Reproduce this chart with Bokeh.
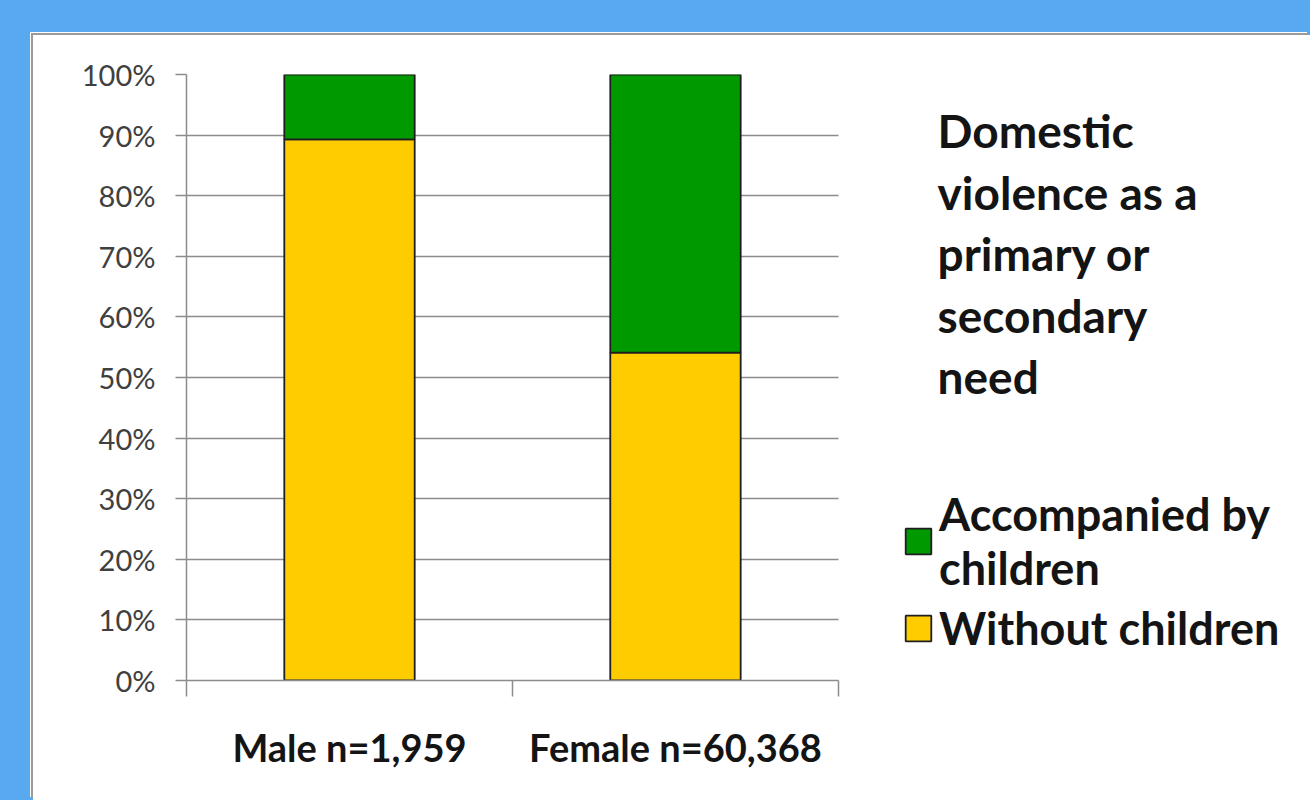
import re
from bokeh.plotting import figure
from bokeh.models import (Range1d, FixedTicker, PrintfTickFormatter, Label,
                          Legend, LegendItem, ColumnDataSource)
from bokeh.embed import file_html
from bokeh.resources import INLINE

# ---- data ----
categories = ["Male n=1,959", "Female n=60,368"]
without_children = [89.3, 54.1]
accompanied = [10.7, 45.9]
series_labels = ["Without children", "Accompanied by\nchildren"]
y_ticks = [0, 10, 20, 30, 40, 50, 60, 70, 80, 90, 100]
title_lines = ["Domestic", "violence as a", "primary or", "secondary", "need"]

YELLOW = "#FFCC00"
GREEN = "#009A00"
GRID = "#8c8c8c"
DARK = "#141414"
BLUE = "#59A9F1"

n = len(categories)
xs = [i + 0.5 for i in range(n)]
src = ColumnDataSource(dict(x=xs, without=without_children, acc=accompanied))

# frame spans to the right edge so that the annotations are not clipped
p = figure(width=1277, height=765,
           x_range=Range1d(0, 3.448), y_range=Range1d(0, 100),
           output_backend="svg", toolbar_location=None,
           min_border_left=153, min_border_right=0,
           min_border_top=39, min_border_bottom=120)
p.margin = (35, 0, 0, 33)
p.styles = {"background-color": "white",
            "box-shadow": "-2px -2px 0 0 #9a9a9a, -3px -3px 0 0 #ffffff"}
p.outline_line_color = None
p.background_fill_color = "white"
p.border_fill_color = "white"

rs = p.vbar_stack(["without", "acc"], x="x", width=0.4, source=src,
                  fill_color=[YELLOW, GREEN], line_color="#1e1e1e", line_width=1.8)

# y axis
p.yaxis.ticker = FixedTicker(ticks=y_ticks)
p.yaxis.formatter = PrintfTickFormatter(format="%d%%")
p.yaxis.axis_line_color = GRID
p.yaxis.axis_line_width = 1.5
p.yaxis.major_tick_line_color = GRID
p.yaxis.major_tick_line_width = 1.5
p.yaxis.major_tick_out = 11
p.yaxis.major_tick_in = 0
p.yaxis.minor_tick_line_color = None
p.yaxis.major_label_standoff = 20
p.yaxis.major_label_text_font = "Lato"
p.yaxis.major_label_text_font_size = "29px"
p.yaxis.major_label_text_color = "#404040"

# x axis: labels at centres, ticks at category boundaries
p.xaxis.bounds = (0, n)
p.xaxis.ticker = FixedTicker(ticks=xs, minor_ticks=list(range(n + 1)))
p.xaxis.major_label_overrides = {x: c for x, c in zip(xs, categories)}
p.xaxis.axis_line_color = GRID
p.xaxis.axis_line_width = 1.5
p.xaxis.major_tick_line_color = None
p.xaxis.major_tick_out = 0
p.xaxis.minor_tick_line_color = GRID
p.xaxis.minor_tick_line_width = 1.5
p.xaxis.minor_tick_out = 16
p.xaxis.minor_tick_in = 0
p.xaxis.major_label_standoff = 27
p.xaxis.major_label_text_font = "Lato"
p.xaxis.major_label_text_font_style = "bold"
p.xaxis.major_label_text_font_size = "38px"
p.xaxis.major_label_text_color = DARK

p.xgrid.grid_line_color = None
p.ygrid.grid_line_color = GRID
p.ygrid.grid_line_width = 1.5
p.ygrid.cross_bounds = (0, n)

legend = Legend(items=[LegendItem(label=series_labels[1], renderers=[rs[1]]),
                       LegendItem(label=series_labels[0], renderers=[rs[0]])],
                location=(716, 25), border_line_color=None,
                background_fill_alpha=0, padding=0, margin=0, spacing=6,
                glyph_width=32, glyph_height=32, label_standoff=5,
                label_text_font="Lato", label_text_font_style="bold",
                label_text_font_size="45px", label_text_line_height=1.3,
                label_text_color=DARK)
p.add_layout(legend)

title = Label(x=2.304, y=95.3, text="\n".join(title_lines),
              text_font="Lato", text_font_style="bold", text_font_size="46px",
              text_baseline="top", text_align="left", text_line_height=1.12,
              text_color=DARK)
p.add_layout(title)

html = file_html(p, INLINE)
style = "<style>html,body{margin:0;padding:0;background:%s;}</style>" % BLUE
html = html.replace("</head>", style + "</head>", 1)
html = re.sub(r"<body[^>]*>", '<body style="margin:0;background:%s;">' % BLUE, html, count=1)
open("out.html", "w").write(html)
